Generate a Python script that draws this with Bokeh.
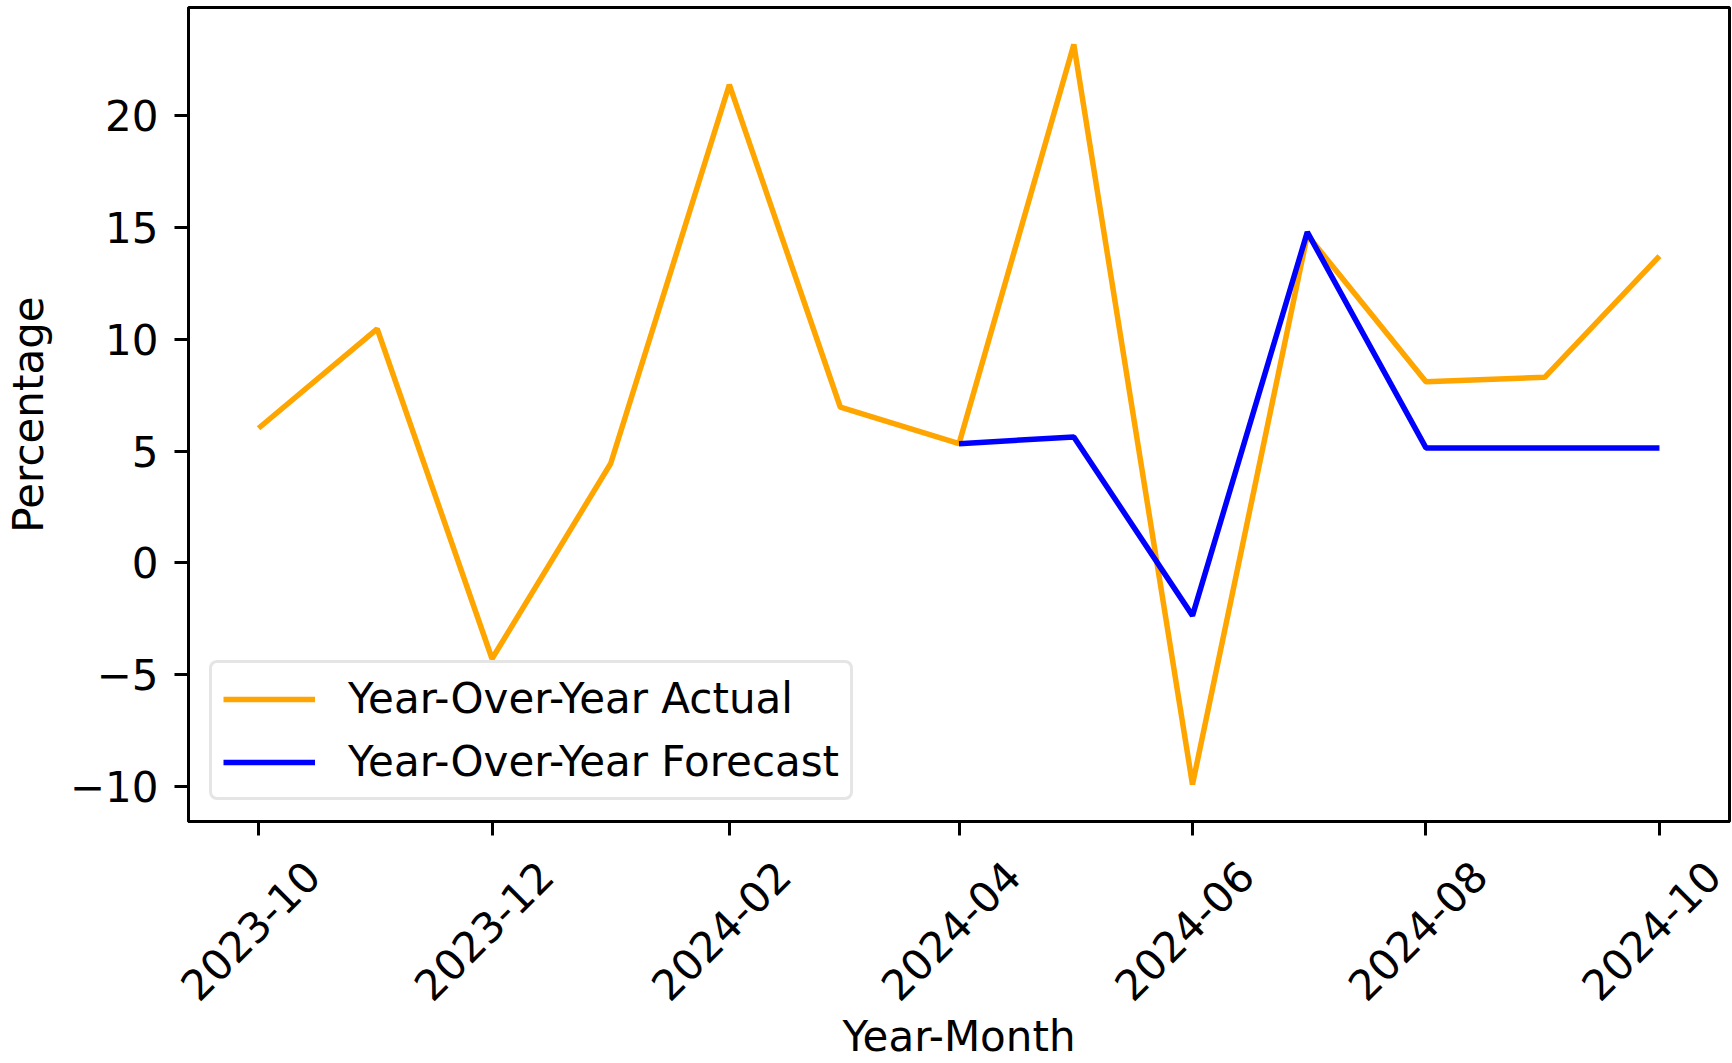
import math
from datetime import datetime, timedelta
from bokeh.plotting import figure
from bokeh.models import (Range1d, FixedTicker, Legend, LegendItem, DatetimeAxis,
                          DatetimeTickFormatter, CustomJSTickFormatter)
from bokeh.embed import file_html
from bokeh.resources import INLINE

# ---- data ----
months = ["2023-10", "2023-11", "2023-12", "2024-01", "2024-02", "2024-03", "2024-04",
          "2024-05", "2024-06", "2024-07", "2024-08", "2024-09", "2024-10"]
actual = [6.02, 10.47, -4.3, 4.44, 21.4, 6.96, 5.33, 23.2, -9.93, 14.67, 8.1, 8.3, 13.73]

forecast_months = ["2024-04", "2024-05", "2024-06", "2024-07", "2024-08", "2024-09", "2024-10"]
forecast = [5.33, 5.63, -2.37, 14.8, 5.14, 5.14, 5.14]

x_tick_labels = ["2023-10", "2023-12", "2024-02", "2024-04", "2024-06", "2024-08", "2024-10"]
y_ticks = [-10, -5, 0, 5, 10, 15, 20]

FONT = "DejaVu Sans"
FS = "42px"


def to_dt(s):
    return datetime.strptime(s, "%Y-%m")


def to_ms(d):
    return (d - datetime(1970, 1, 1)).total_seconds() * 1000.0


xa = [to_dt(m) for m in months]
xf = [to_dt(m) for m in forecast_months]

span = xa[-1] - xa[0]
pad = span * 0.05
ymin, ymax = min(actual + forecast), max(actual + forecast)
ypad = (ymax - ymin) * 0.05

x0, x1 = xa[0] - pad, xa[-1] + pad
p = figure(width=1732, height=1063, x_axis_type="datetime",
           output_backend="svg", toolbar_location=None,
           x_range=Range1d(x0, x1),
           y_range=Range1d(ymin - ypad, ymax + ypad),
           min_border_left=188, min_border_right=3, min_border_top=7,
           min_border_bottom=242)

r_act = p.line(xa, actual, line_color="orange", line_width=5.5)
r_for = p.line(xf, forecast, line_color="blue", line_width=5.5)

# frame / grid
p.xgrid.visible = False
p.ygrid.visible = False
p.outline_line_color = "black"
p.outline_line_width = 3
p.background_fill_color = "white"
p.border_fill_color = "white"

# x axis: ticks on the main axis
xt = [to_ms(to_dt(s)) for s in x_tick_labels]
p.xaxis.ticker = FixedTicker(ticks=xt, minor_ticks=[])
p.xaxis.formatter = CustomJSTickFormatter(code="return ''")
p.xaxis.major_label_text_font_size = "1px"
p.xaxis.major_label_standoff = 0
p.xaxis.axis_line_width = 3
p.xaxis.major_tick_line_width = 3
p.xaxis.major_tick_out = 14
p.xaxis.major_tick_in = 0
p.xaxis.minor_tick_line_color = None

# rotated tick labels: a label axis whose range is shifted so that each
# label is centred on its tick (as in the reference)
shift = timedelta(days=14)
p.extra_x_ranges = {"lab": Range1d(x0 - shift, x1 - shift)}
lab_axis = DatetimeAxis(x_range_name="lab",
                        ticker=FixedTicker(ticks=xt, minor_ticks=[]),
                        formatter=DatetimeTickFormatter(months="%Y-%m", days="%Y-%m",
                                                        years="%Y-%m", hours="%Y-%m"))
lab_axis.axis_line_color = None
lab_axis.major_tick_line_color = None
lab_axis.minor_tick_line_color = None
lab_axis.major_tick_out = 0
lab_axis.major_tick_in = 0
lab_axis.major_label_orientation = math.pi / 4
lab_axis.major_label_standoff = 33
lab_axis.major_label_text_font = FONT
lab_axis.major_label_text_font_size = FS
lab_axis.major_label_text_color = "black"
lab_axis.axis_label = "Year-Month"
lab_axis.axis_label_text_font = FONT
lab_axis.axis_label_text_font_size = FS
lab_axis.axis_label_text_font_style = "normal"
lab_axis.axis_label_text_color = "black"
lab_axis.axis_label_standoff = -6
p.add_layout(lab_axis, "below")

# y axis
p.yaxis.ticker = FixedTicker(ticks=y_ticks, minor_ticks=[])
p.yaxis.major_label_overrides = {v: (("\u2212" + str(-v)) if v < 0 else str(v)) for v in y_ticks}
p.yaxis.axis_line_width = 3
p.yaxis.major_tick_line_width = 3
p.yaxis.major_tick_out = 14
p.yaxis.major_tick_in = 0
p.yaxis.minor_tick_line_color = None
p.yaxis.major_label_standoff = 16
p.yaxis.major_label_text_font = FONT
p.yaxis.major_label_text_font_size = FS
p.yaxis.major_label_text_color = "black"
p.yaxis.axis_label = "Percentage"
p.yaxis.axis_label_text_font = FONT
p.yaxis.axis_label_text_font_size = FS
p.yaxis.axis_label_text_font_style = "normal"
p.yaxis.axis_label_text_color = "black"
p.yaxis.axis_label_standoff = 14

# legend
legend = Legend(items=[LegendItem(label="Year-Over-Year Actual", renderers=[r_act]),
                       LegendItem(label="Year-Over-Year Forecast", renderers=[r_for])],
                location="bottom_left", margin=21, padding=11, spacing=14,
                glyph_width=92, glyph_height=44, label_height=44, label_standoff=33,
                label_text_font=FONT, label_text_font_size=FS, label_text_color="black",
                border_line_color="#cccccc", border_line_width=3, border_radius=8,
                background_fill_color="white", background_fill_alpha=0.8)
p.add_layout(legend)

open("out.html", "w").write(file_html(p, INLINE))
